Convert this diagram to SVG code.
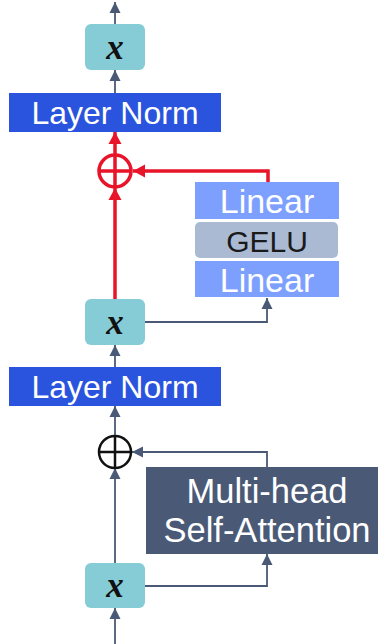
<svg xmlns="http://www.w3.org/2000/svg" width="379" height="644" viewBox="0 0 379 644">
<style>
.xbox{fill:#85CCD6}
.ln{fill:#2A54DE}
.lin{fill:#7DA0FF}
.gelu{fill:#AABAD3}
.mhsa{fill:#4A5A76}
.t{font-family:"Liberation Sans",Arial,sans-serif;text-anchor:middle}
.tw{fill:#FFFFFF}
.xt{font-family:"Liberation Serif","DejaVu Serif",serif;font-style:italic;font-weight:bold;font-size:35px;text-anchor:middle;fill:#111111}
.c{fill:none;stroke:#4A5A76;stroke-width:1.8}
.r{fill:none;stroke:#E8142A;stroke-width:3.5}
</style>
<defs>
<marker id="ah" markerUnits="userSpaceOnUse" markerWidth="12" markerHeight="12" refX="11" refY="6" orient="auto">
<path d="M0,0.5 L11,6 L0,11.5 z" fill="#4A5A76"/>
</marker>
<marker id="ar" markerUnits="userSpaceOnUse" markerWidth="14" markerHeight="14" refX="12" refY="7" orient="auto">
<path d="M0,0.5 L12,7 L0,13.5 z" fill="#E8142A"/>
</marker>
</defs>
<g id="connectors">
<path class="c" d="M115,24 V2" marker-end="url(#ah)"/>
<path class="c" d="M115,93 V70" marker-end="url(#ah)"/>
<path class="r" d="M115,155 V132" marker-end="url(#ar)"/>
<path class="r" d="M268,183 V171 H133" marker-end="url(#ar)"/>
<path class="r" d="M115,299 V188" marker-end="url(#ar)"/>
<path class="c" d="M145,322 H267 V298" marker-end="url(#ah)"/>
<path class="c" d="M115,367 V345" marker-end="url(#ah)"/>
<path class="c" d="M115,436 V406" marker-end="url(#ah)"/>
<path class="c" d="M267,467 V452 H132" marker-end="url(#ah)"/>
<path class="c" d="M115,563 V468" marker-end="url(#ah)"/>
<path class="c" d="M145,586 H267 V554" marker-end="url(#ah)"/>
<path class="c" d="M115,644 V608" marker-end="url(#ah)"/>
</g>
<g id="x-top">
<rect class="xbox" x="85" y="24" width="60" height="46" rx="6"/>
<text class="xt" x="115" y="59">x</text>
</g>
<g id="layernorm-top">
<rect class="ln" x="9" y="93" width="212" height="39"/>
<text class="t tw" x="115" y="123.5" font-size="32">Layer Norm</text>
</g>
<g id="add-top">
<circle cx="115" cy="171" r="16" fill="none" stroke="#E8142A" stroke-width="3.5"/>
<path d="M99,171 H131 M115,155 V187" stroke="#E8142A" stroke-width="3.5"/>
</g>
<g id="linear-top">
<rect class="lin" x="195" y="182" width="144" height="37"/>
<text class="t tw" x="267" y="212.5" font-size="34">Linear</text>
</g>
<g id="gelu">
<rect class="gelu" x="195" y="222" width="143" height="36" rx="5"/>
<text class="t" x="267" y="251.5" font-size="30" fill="#1A1A1A">GELU</text>
</g>
<g id="linear-bottom">
<rect class="lin" x="195" y="261" width="144" height="36"/>
<text class="t tw" x="267" y="291.5" font-size="34">Linear</text>
</g>
<g id="x-mid">
<rect class="xbox" x="85" y="299" width="60" height="46" rx="6"/>
<text class="xt" x="115" y="334">x</text>
</g>
<g id="layernorm-bottom">
<rect class="ln" x="9" y="367" width="212" height="39"/>
<text class="t tw" x="115" y="397.5" font-size="32">Layer Norm</text>
</g>
<g id="add-bottom">
<circle cx="115" cy="452" r="16" fill="none" stroke="#111111" stroke-width="2.5"/>
<path d="M99,452 H131 M115,436 V468" stroke="#111111" stroke-width="2.5"/>
</g>
<g id="mhsa">
<rect class="mhsa" x="146" y="467" width="232" height="87"/>
<text class="t tw" x="267" y="503" font-size="34.5">Multi-head</text>
<text class="t tw" x="267" y="542" font-size="34.5">Self-Attention</text>
</g>
<g id="x-bottom">
<rect class="xbox" x="85" y="563" width="60" height="45" rx="6"/>
<text class="xt" x="115" y="597">x</text>
</g>
</svg>
